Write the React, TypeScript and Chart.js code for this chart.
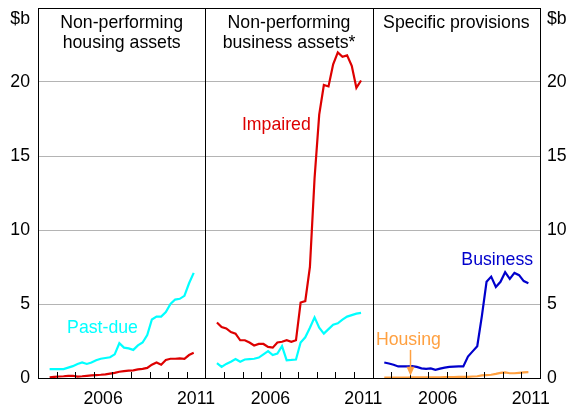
import React, { useEffect, useRef } from "react";
import { Chart, registerables } from "chart.js";

Chart.register(...registerables);

// Observation dates (quarterly)
const periods = [
  "2003-08", "2003-11", "2004-02", "2004-05", "2004-08", "2004-11", "2005-02", "2005-05",
  "2005-08", "2005-11", "2006-02", "2006-05", "2006-08", "2006-11", "2007-02", "2007-05",
  "2007-08", "2007-11", "2008-02", "2008-05", "2008-08", "2008-11", "2009-02", "2009-05",
  "2009-08", "2009-11", "2010-02", "2010-05", "2010-08", "2010-11", "2011-02", "2011-05",
];

// Panel 1: Non-performing housing assets ($b)
const housingPastDue = [
  0.6, 0.6, 0.6, 0.6, 0.7, 0.8, 0.95, 1.05, 0.95, 1.05, 1.2, 1.3, 1.35, 1.4, 1.6, 2.35,
  2.05, 2.0, 1.9, 2.2, 2.4, 2.9, 3.95, 4.15, 4.15, 4.45, 5.0, 5.3, 5.35, 5.55, 6.4, 7.1,
];
const housingImpaired = [
  0.05, 0.08, 0.1, 0.12, 0.15, 0.15, 0.1, 0.12, 0.15, 0.18, 0.2, 0.22, 0.25, 0.3, 0.35, 0.42,
  0.47, 0.5, 0.52, 0.58, 0.62, 0.68, 0.9, 1.05, 0.9, 1.22, 1.3, 1.3, 1.32, 1.3, 1.55, 1.7,
];

// Panel 2: Non-performing business assets ($b)
const businessPastDue = [
  1.0, 0.75, 0.95, 1.1, 1.28, 1.1, 1.25, 1.28, 1.3, 1.38, 1.6, 1.82, 1.55, 1.65, 2.15, 1.2,
  1.22, 1.25, 2.4, 2.75, 3.4, 4.1, 3.4, 3.0, 3.3, 3.6, 3.7, 3.95, 4.15, 4.25, 4.35, 4.4,
];
const businessImpaired = [
  3.75, 3.45, 3.35, 3.1, 3.0, 2.55, 2.55, 2.4, 2.2, 2.3, 2.3, 2.1, 2.05, 2.4, 2.45, 2.55,
  2.45, 2.55, 5.1, 5.2, 7.5, 13.5, 17.8, 19.8, 19.7, 21.2, 22.0, 21.7, 21.8, 21.1, 19.6, 20.1,
];

// Panel 3: Specific provisions ($b)
const provisionsBusiness = [
  1.05, 0.98, 0.9, 0.78, 0.78, 0.78, 0.8, 0.75, 0.65, 0.62, 0.65, 0.55, 0.63, 0.7, 0.75, 0.77,
  0.78, 0.78, 1.45, 1.8, 2.15, 4.2, 6.5, 6.85, 6.15, 6.5, 7.15, 6.7, 7.1, 6.95, 6.55, 6.4,
];
const provisionsHousing = [
  0.03, 0.03, 0.03, 0.03, 0.03, 0.03, 0.04, 0.04, 0.04, 0.04, 0.05, 0.05, 0.05, 0.06, 0.06, 0.06,
  0.07, 0.07, 0.08, 0.1, 0.12, 0.18, 0.2, 0.22, 0.28, 0.35, 0.38, 0.32, 0.32, 0.35, 0.38, 0.4,
];

const panelTitles = [["Non-performing", "housing assets"], ["Non-performing", "business assets*"], ["Specific provisions"]];
const yTicks = [0, 5, 10, 15, 20];
const yMax = 25;
const yUnit = "$b";
const xTickYears = [2006, 2011];
const startYear = 2003;
const yearsPerPanel = 9;

const CYAN = "#00ffff";
const RED = "#dd0000";
const BLUE = "#0000cc";
const ORANGE = "#ffa040";
const FONT = "Liberation Sans, Arial, sans-serif";
const FS = 17.7;

function toYear(p: string) {
  const [y, m] = p.split("-").map(Number);
  return y + (m - 0.5) / 12;
}

function series(panel: number, vals: number[]) {
  return vals.map((v, i) => ({ x: panel * yearsPerPanel + toYear(periods[i]) - startYear, y: v }));
}

const annotPlugin = {
  id: "annot",
  afterDraw(chart: any) {
    const { ctx, chartArea: a, scales } = chart;
    const xs = scales.x;
    const ys = scales.y;
    ctx.save();
    ctx.strokeStyle = "#000";
    ctx.lineWidth = 1;
    ctx.beginPath();
    ctx.rect(Math.round(a.left) + 0.5, Math.round(a.top) + 0.5, Math.round(a.right - a.left), Math.round(a.bottom - a.top));
    for (let p = 1; p < 3; p++) {
      const x = Math.round(xs.getPixelForValue(p * yearsPerPanel)) + 0.5;
      ctx.moveTo(x, a.top);
      ctx.lineTo(x, a.bottom);
    }
    for (let v = 1; v < 3 * yearsPerPanel; v++) {
      if (v % yearsPerPanel === 0) continue;
      const x = Math.round(xs.getPixelForValue(v)) + 0.5;
      ctx.moveTo(x, a.bottom);
      ctx.lineTo(x, a.bottom - 6);
    }
    ctx.stroke();

    ctx.font = `${FS}px ${FONT}`;
    ctx.fillStyle = "#000";
    ctx.textBaseline = "alphabetic";
    ctx.textAlign = "center";
    panelTitles.forEach((lines, p) => {
      const cx = xs.getPixelForValue(p * yearsPerPanel + yearsPerPanel / 2);
      lines.forEach((t, k) => ctx.fillText(t, cx, a.top + 20 + k * 20));
    });
    ctx.textBaseline = "middle";
    ctx.textAlign = "right";
    ctx.fillText(yUnit, a.left - 8, a.top + 11);
    ctx.textAlign = "left";
    ctx.fillText(yUnit, a.right + 7, a.top + 11);

    ctx.textAlign = "center";
    const lab = (t: string, c: string, x: number, y: number) => {
      ctx.fillStyle = c;
      ctx.fillText(t, xs.getPixelForValue(x), ys.getPixelForValue(y));
    };
    lab("Past-due", CYAN, 3.47, 3.38);
    lab("Impaired", RED, 12.82, 17.1);
    lab("Business", BLUE, 24.7, 7.97);
    lab("Housing", ORANGE, 19.92, 2.57);

    const ax = Math.round(xs.getPixelForValue(20.0)) + 0.5;
    const y1 = ys.getPixelForValue(1.9);
    const y2 = ys.getPixelForValue(0.15);
    ctx.strokeStyle = ORANGE;
    ctx.fillStyle = ORANGE;
    ctx.lineWidth = 1.5;
    ctx.beginPath();
    ctx.moveTo(ax, y1);
    ctx.lineTo(ax, y2 - 6);
    ctx.stroke();
    ctx.beginPath();
    ctx.moveTo(ax, y2);
    ctx.lineTo(ax - 4, y2 - 9);
    ctx.lineTo(ax + 4, y2 - 9);
    ctx.closePath();
    ctx.fill();
    ctx.restore();
  },
};

export default function App() {
  const ref = useRef<HTMLCanvasElement>(null);
  useEffect(() => {
    if (!ref.current) return;
    const ds = (data: any[], color: string) => ({
      data,
      borderColor: color,
      backgroundColor: color,
      borderWidth: 2.2,
      pointRadius: 0,
      tension: 0,
      fill: false,
    });
    const fitY = (w: number) => (s: any) => {
      s.width = w;
      s.paddingTop = 0;
      s.paddingBottom = 0;
    };
    const chart = new Chart(ref.current, {
      type: "line",
      data: {
        datasets: [
          ds(series(0, housingImpaired), RED),
          ds(series(0, housingPastDue), CYAN),
          ds(series(1, businessPastDue), CYAN),
          ds(series(1, businessImpaired), RED),
          ds(series(2, provisionsHousing), ORANGE),
          ds(series(2, provisionsBusiness), BLUE),
        ],
      },
      options: {
        responsive: false,
        animation: false,
        events: [],
        layout: { padding: { top: 8, left: 0, right: 0, bottom: 0 } },
        plugins: { legend: { display: false }, tooltip: { enabled: false }, title: { display: false } },
        scales: {
          x: {
            type: "linear",
            min: 0,
            max: 3 * yearsPerPanel,
            afterBuildTicks: (s: any) => {
              const t: any[] = [];
              for (let p = 0; p < 3; p++)
                xTickYears.forEach((yr) => t.push({ value: p * yearsPerPanel + yr - startYear + 0.5 }));
              s.ticks = t;
            },
            afterFit: (s: any) => {
              s.height = 32;
              s.paddingLeft = 0;
              s.paddingRight = 0;
            },
            grid: { display: false, drawTicks: false },
            border: { display: true, color: "#000", width: 1 },
            ticks: {
              autoSkip: false,
              maxRotation: 0,
              padding: 10,
              color: "#000",
              font: { family: FONT, size: FS },
              callback: (v: any) => String(startYear + Math.floor(Number(v) % yearsPerPanel)),
            },
          },
          y: {
            position: "left",
            min: 0,
            max: yMax,
            afterBuildTicks: (s: any) => { s.ticks = yTicks.map((v) => ({ value: v })); },
            afterFit: fitY(38),
            grid: {
              drawTicks: false,
              color: (c: any) => (c.tick && c.tick.value === 0 ? "rgba(0,0,0,0)" : "#b4b4b4"),
              lineWidth: 1,
            },
            border: { display: true, color: "#000" },
            ticks: {
              padding: 8,
              color: "#000",
              font: { family: FONT, size: FS },
              callback: (v: any) => String(v),
            },
          },
          y2: {
            position: "right",
            min: 0,
            max: yMax,
            afterBuildTicks: (s: any) => { s.ticks = yTicks.map((v) => ({ value: v })); },
            afterFit: fitY(32),
            grid: { display: false, drawTicks: false },
            border: { display: true, color: "#000" },
            ticks: {
              padding: 7,
              color: "#000",
              font: { family: FONT, size: FS },
              callback: (v: any) => String(v),
            },
          },
        },
      },
      plugins: [annotPlugin],
    });
    return () => chart.destroy();
  }, []);
  return (
    <div style={{ position: "fixed", left: 0, top: 0, width: 572, height: 410, background: "#fff" }}>
      <canvas ref={ref} width={572} height={410} style={{ display: "block" }} />
    </div>
  );
}
